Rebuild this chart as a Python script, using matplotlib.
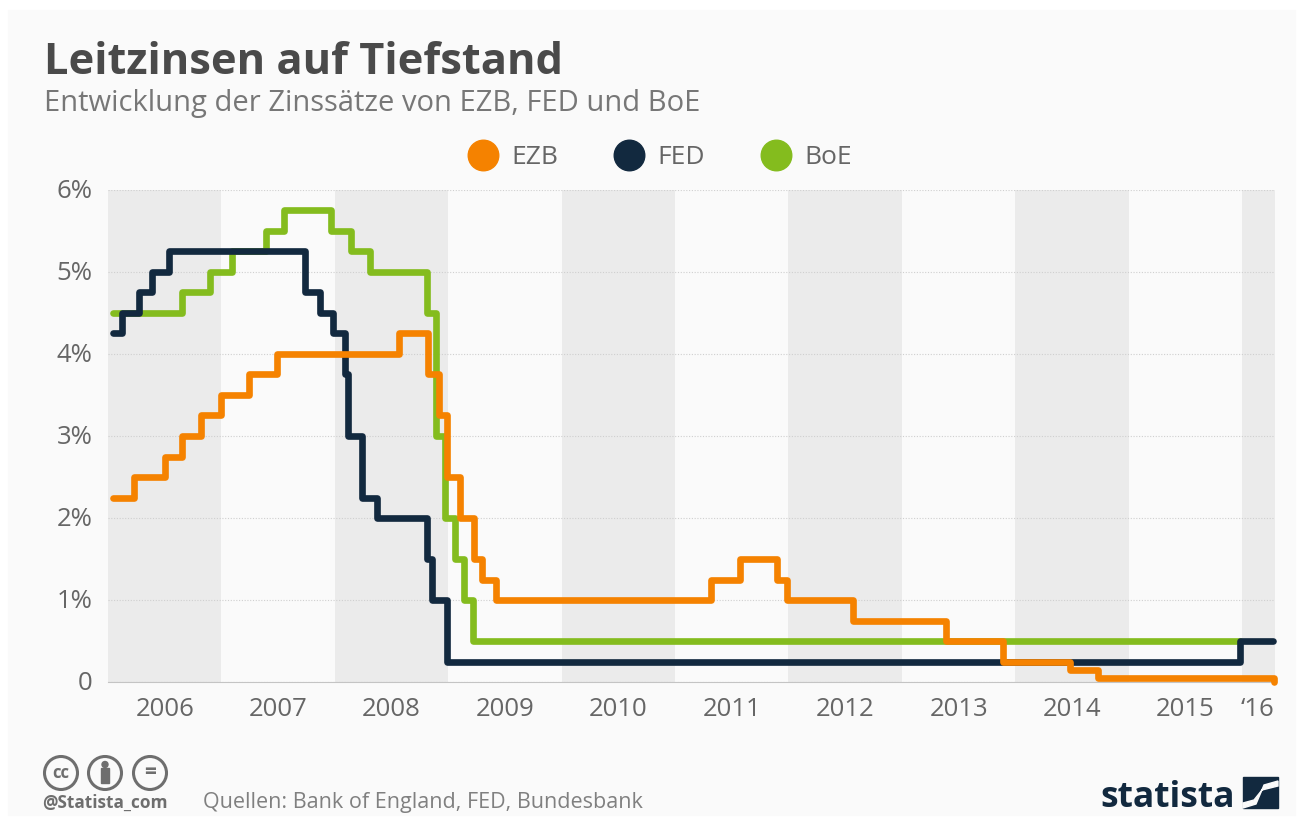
import matplotlib
matplotlib.use('Agg')
import matplotlib.pyplot as plt
from matplotlib.lines import Line2D
from matplotlib.patches import Polygon, Rectangle, Ellipse
from matplotlib.transforms import ScaledTranslation

# Leitzinsen, Stufen: Jahr als Dezimalzahl, ab dem der Satz gilt
ezb_x = [2006.04, 2006.23, 2006.50, 2006.65, 2006.82, 2007.0, 2007.24, 2007.49, 2008.57, 2008.82, 2008.92,
         2008.985, 2009.10, 2009.23, 2009.30, 2009.42, 2011.32, 2011.57, 2011.90, 2011.99, 2012.57, 2013.39,
         2013.89, 2014.48, 2014.73, 2016.24, 2016.28]
ezb_y = [2.25, 2.5, 2.75, 3.0, 3.25, 3.5, 3.75, 4.0, 4.25, 3.75, 3.25,
         2.5, 2.0, 1.5, 1.25, 1.0, 1.25, 1.5, 1.25, 1.0, 0.75, 0.5,
         0.25, 0.15, 0.05, 0.05, 0.0]

fed_x = [2006.04, 2006.12, 2006.27, 2006.39, 2006.54, 2007.74, 2007.87, 2007.98, 2008.09, 2008.12, 2008.24,
         2008.37, 2008.81, 2008.86, 2008.99, 2015.98, 2016.27]
fed_y = [4.25, 4.5, 4.75, 5.0, 5.25, 4.75, 4.5, 4.25, 3.75, 3.0, 2.25,
         2.0, 1.5, 1.0, 0.25, 0.5, 0.5]

boe_x = [2006.04, 2006.65, 2006.90, 2007.09, 2007.39, 2007.55, 2007.97, 2008.14, 2008.31, 2008.81, 2008.89,
         2008.97, 2009.06, 2009.14, 2009.22, 2015.98]
boe_y = [4.5, 4.75, 5.0, 5.25, 5.5, 5.75, 5.5, 5.25, 5.0, 4.5, 3.0,
         2.0, 1.5, 1.0, 0.5, 0.5]

band_years = [2006, 2008, 2010, 2012, 2014, 2016]
year_ticks = [2006.5, 2007.5, 2008.5, 2009.5, 2010.5, 2011.5, 2012.5, 2013.5, 2014.5, 2015.5, 2016.14]
year_labels = ['2006', '2007', '2008', '2009', '2010', '2011', '2012', '2013', '2014', '2015', '‘16']
pct_ticks = [0, 1, 2, 3, 4, 5, 6]
pct_labels = ['0', '1%', '2%', '3%', '4%', '5%', '6%']

W, H = 1302, 822
ORANGE = '#f58200'
NAVY = '#12293f'
GREEN = '#84bc1e'
TEXT = '#666666'
plt.rcParams['font.family'] = ['Open Sans', 'DejaVu Sans']

fig = plt.figure(figsize=(W / 100, H / 100), dpi=100, facecolor='white')
bg = Rectangle((8 / W, 1 - 815 / H), 1287 / W, 805 / H, transform=fig.transFigure, color='#fafafa', zorder=-5)
fig.add_artist(bg)

ax = fig.add_axes([108 / W, 1 - 682 / H, 1167 / W, 492 / H])
ax.patch.set_alpha(0)
ax.set_xlim(2006, 2016.29)
ax.set_ylim(0, 6)
for y0 in band_years:
    ax.axvspan(y0, y0 + 1, color='#ebebeb', lw=0, zorder=0)
ax.grid(axis='y', color='#cfcfcf', linestyle=(0, (1, 1.5)), linewidth=0.8, zorder=1)
ax.set_axisbelow(False)

ax.step(boe_x, boe_y, where='post', color=GREEN, lw=4.8, solid_joinstyle='round', solid_capstyle='round', zorder=3, clip_on=False)
ax.step(fed_x, fed_y, where='post', color=NAVY, lw=4.8, solid_joinstyle='round', solid_capstyle='round', zorder=4, clip_on=False)
ax.step(ezb_x, ezb_y, where='post', color=ORANGE, lw=4.8, solid_joinstyle='round', solid_capstyle='round', zorder=5, clip_on=False)

ax.set_xticks(year_ticks, year_labels)
ax.set_yticks(pct_ticks, pct_labels)
ax.tick_params(length=0, labelsize=18.5, labelcolor=TEXT)
ax.tick_params(axis='x', pad=11)
ax.tick_params(axis='y', pad=11)
# y labels sit a little higher in the original
for lab in ax.get_yticklabels():
    lab.set_transform(lab.get_transform() + ScaledTranslation(0, 2 / 100, fig.dpi_scale_trans))
for s in ['top', 'left', 'right']:
    ax.spines[s].set_visible(False)
ax.spines['bottom'].set_color('#c4c4c4')

fig.text(44 / W, 1 - 74 / H, 'Leitzinsen auf Tiefstand', fontsize=31.2, fontweight='bold', color='#4a4a4a')
fig.text(44 / W, 1 - 111 / H, 'Entwicklung der Zinssätze von EZB, FED und BoE', fontsize=21, color='#777777')

handles = [Line2D([], [], linestyle='none', marker='o', markersize=22, color=c) for c in [ORANGE, NAVY, GREEN]]
fig.legend(handles, ['EZB', 'FED', 'BoE'], ncol=3, loc='center', bbox_to_anchor=(661 / W, 1 - 158 / H),
           frameon=False, fontsize=19, labelcolor=TEXT, columnspacing=2.2, handlelength=1.0, handletextpad=0.56)

# CC Icons
for cx in [61, 105, 150]:
    fig.add_artist(Ellipse((cx / W, 1 - 773 / H), 33 / W, 33 / H, transform=fig.transFigure, fc='none', ec='#6e6e6e', lw=2.2))
fig.text(61 / W, 1 - 773 / H, 'cc', fontsize=12, fontweight='bold', color='#6e6e6e', ha='center', va='center')
fig.text(150 / W, 1 - 772 / H, '=', fontsize=15, fontweight='bold', color='#6e6e6e', ha='center', va='center')
fig.add_artist(Ellipse((105 / W, 1 - 764.5 / H), 6 / W, 6 / H, transform=fig.transFigure, color='#6e6e6e'))
fig.add_artist(Rectangle((101 / W, 1 - 783 / H), 8 / W, 15 / H, transform=fig.transFigure, color='#6e6e6e'))
fig.text(42 / W, 1 - 808 / H, '@Statista_com', fontsize=12.4, fontweight='bold', color='#6e6e6e')
fig.text(203 / W, 1 - 808 / H, 'Quellen: Bank of England, FED, Bundesbank', fontsize=15.5, color='#808080')

# Logo
fig.text(1100 / W, 1 - 807 / H, 'statista', fontsize=25.5, fontweight='bold', color=NAVY)
fig.add_artist(Rectangle((1243 / W, 1 - 808 / H), 35 / W, 31 / H, transform=fig.transFigure, color=NAVY))
fig.add_artist(Polygon([(1243 / W, 1 - 808 / H), (1243 / W, 1 - 803 / H), (1254 / W, 1 - 800 / H), (1262 / W, 1 - 790 / H),
                        (1278 / W, 1 - 786 / H), (1278 / W, 1 - 781 / H), (1264 / W, 1 - 785 / H), (1256 / W, 1 - 804 / H)],
                       transform=fig.transFigure, color='#fafafa'))

fig.savefig('out.png', dpi=100)
plt.close(fig)
